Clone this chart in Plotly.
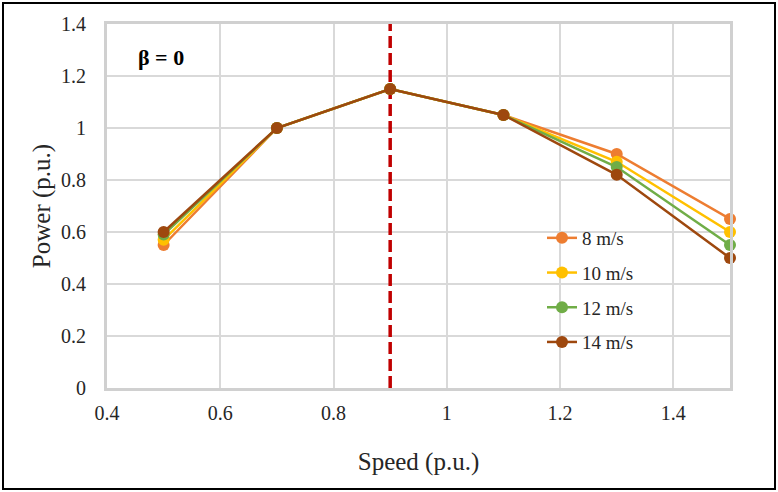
import plotly.graph_objects as go

speed = [0.5, 0.7, 0.9, 1.1, 1.3, 1.5]
series_names = ["8 m/s", "10 m/s", "12 m/s", "14 m/s"]
power_8 = [0.55, 1.0, 1.15, 1.05, 0.90, 0.65]
power_10 = [0.57, 1.0, 1.15, 1.05, 0.87, 0.60]
power_12 = [0.59, 1.0, 1.15, 1.05, 0.85, 0.55]
power_14 = [0.60, 1.0, 1.15, 1.05, 0.82, 0.50]
colors = ["#ED7D31", "#FFC000", "#70AD47", "#9E480E"]
optimal_speed = 0.9
x_ticks = [0.4, 0.6, 0.8, 1.0, 1.2, 1.4]
x_tick_labels = ["0.4", "0.6", "0.8", "1", "1.2", "1.4"]
y_ticks = [0, 0.2, 0.4, 0.6, 0.8, 1.0, 1.2, 1.4]
y_tick_labels = ["0", "0.2", "0.4", "0.6", "0.8", "1", "1.2", "1.4"]

W, H = 778, 492
ml, mr, mt, mb = 107, 48, 24, 104
pw, ph = W - ml - mr, H - mt - mb

font = "Times New Roman, Liberation Serif, serif"
fig = go.Figure()
for i, (name, vals) in enumerate(zip(series_names, [power_8, power_10, power_12, power_14])):
    fig.add_trace(go.Scatter(
        x=speed, y=vals, name=name, mode="lines+markers",
        line=dict(color=colors[i], width=2.5),
        marker=dict(color=colors[i], size=12),
        legendgroup=f"g{i}", cliponaxis=False,
    ))

fig.add_shape(type="line", x0=optimal_speed, x1=optimal_speed, y0=0, y1=1.4,
              xref="x", yref="y", layer="between",
              line=dict(color="#C00000", width=3.5, dash="12px,5px"))

# outer black frame
fig.add_shape(type="rect", xref="paper", yref="paper",
              x0=(3 - ml) / pw, x1=(W - 3 - ml) / pw,
              y0=-(H - 3 - mt - ph) / ph, y1=(ph + mt - 3) / ph,
              line=dict(color="#000000", width=2), layer="below")

fig.add_annotation(text="<b>β = 0</b>", xref="paper", yref="paper",
                   x=(161 - ml) / pw, y=(388 - 57) / ph, showarrow=False,
                   xanchor="center", yanchor="middle",
                   font=dict(family=font, size=22, color="#000000"))

fig.update_layout(
    width=W, height=H,
    margin=dict(l=ml, r=mr, t=mt, b=mb),
    paper_bgcolor="white", plot_bgcolor="white",
    font=dict(family=font, color="#262626"),
    showlegend=True,
    legend=dict(x=(542 - ml) / pw, y=(388 - 219) / ph, xanchor="left", yanchor="top",
                bgcolor="rgba(0,0,0,0)", font=dict(family=font, size=19, color="#262626"),
                traceorder="grouped", tracegroupgap=7),
    xaxis=dict(range=[0.4, 1.5], tickvals=x_ticks, ticktext=x_tick_labels,
               showgrid=True, gridcolor="#D9D9D9", gridwidth=1.5,
               showline=True, linecolor="#D0D0D0", linewidth=3, mirror=True,
               zeroline=False, ticks="", ticklabelstandoff=5,
               tickfont=dict(family=font, size=20, color="#262626"),
               title=dict(text="Speed (p.u.)", font=dict(family=font, size=25, color="#262626"), standoff=30)),
    yaxis=dict(range=[0, 1.4], tickvals=y_ticks, ticktext=y_tick_labels,
               showgrid=True, gridcolor="#D9D9D9", gridwidth=1.5,
               showline=True, linecolor="#D0D0D0", linewidth=3, mirror=True,
               zeroline=False, ticks="", ticklabelstandoff=14,
               tickfont=dict(family=font, size=20, color="#262626"),
               title=dict(text="Power (p.u.)", font=dict(family=font, size=25, color="#262626"), standoff=4)),
)

fig.write_html("out.html")
